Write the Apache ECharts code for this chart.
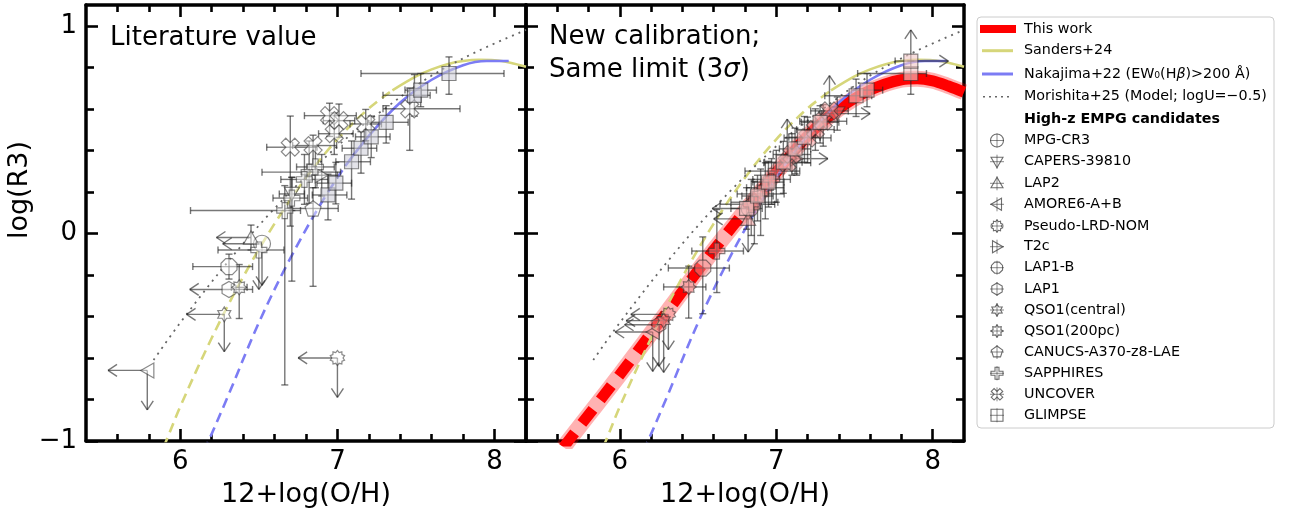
<!DOCTYPE html>
<html><head><meta charset="utf-8">
<script src="https://cdn.jsdelivr.net/npm/echarts@6/dist/echarts.min.js"></script>
<style>html,body{margin:0;padding:0;background:#fff}#c{width:1293px;height:512px}</style>
</head><body><div id="c"></div><script>
// ---------- axis ticks ----------
const xMajor = [6, 7, 8];
const xMinor = [5.6, 5.8, 6.2, 6.4, 6.6, 6.8, 7.2, 7.4, 7.6, 7.8];
const yMajor = [-1, 0, 1];
const yMinor = [-0.8, -0.6, -0.4, -0.2, 0.2, 0.4, 0.6, 0.8];

// ---------- calibration curves [12+log(O/H), log(R3)] ----------
const sandersDashed = [[5.85,-1.1],[5.91,-1.0],[6.0,-0.834],[6.2,-0.504],[6.4,-0.21],[6.6,0.047],[6.8,0.268],[7.0,0.453],[7.2,0.602],[7.35,0.689]];
const sandersSolid = [[7.35,0.689],[7.5,0.756],[7.6,0.79],[7.7,0.815],[7.8,0.83],[7.9,0.836],[8.0,0.834],[8.1,0.822],[8.2,0.802]];
const nakajimaDashed = [[6.15,-1.05],[6.18,-1.0],[6.3,-0.79],[6.5,-0.43],[6.7,-0.12],[6.9,0.15],[7.05,0.325]];
const nakajimaSolid = [[7.05,0.325],[7.2,0.47],[7.4,0.63],[7.6,0.74],[7.8,0.81],[7.95,0.83],[8.09,0.83]];
const morishita = [[5.83,-0.61],[6.0,-0.43],[6.3,-0.14],[6.6,0.12],[7.0,0.42],[7.3,0.6],[7.6,0.76],[7.9,0.88],[8.2,0.98]];
const thisWorkDashed = [[5.64,-1.03],[5.67,-1.0],[6.0,-0.68],[6.3,-0.38],[6.6,-0.08],[6.9,0.2]];
const thisWorkSolid = [[6.9,0.2],[7.04,0.33],[7.2,0.47],[7.4,0.6],[7.6,0.69],[7.8,0.74],[7.9,0.745],[8.0,0.735],[8.1,0.71],[8.2,0.68]];

// ---------- objects: [x, y, xerrLo, xerrHi, yerrLo, yerrHi, limits]
// limits: 1 = x upper limit, 2 = x lower limit, 4 = y upper limit, 8 = y lower limit
const lit_MPGCR3 = [[6.52,-0.05,0.25,0,0.20,0,5]];
const cal_MPGCR3 = [[6.83,0.12,0.24,0,0.05,0.05,1]];
const lit_CAPERS = [[6.71,0.19,0.08,0.08,0.08,0.08,0]];
const cal_CAPERS = [[7.39,0.577,0.1,0.21,0.08,0.08,2]];
const lit_LAP2 = [[6.45,-0.02,0.22,0,0.06,0.06,1]];
const cal_LAP2 = [[6.82,0.07,0.22,0,0.16,0,5]];
const lit_AMORE6 = [[5.79,-0.66,0.25,0,0.19,0,5]];
const cal_AMORE6 = [[6.21,-0.475,0.24,0,0.19,0,5]];
const lit_PLRD = [[7.0,-0.60,0.25,0,0.19,0,5]];
const cal_PLRD = [[6.31,-0.39,0.24,0,0.17,0,5]];
const lit_T2c = [[6.90,0.28,0.1,0.1,0.1,0.1,0]];
const cal_T2c = [[7.13,0.36,0.1,0.2,0.08,0.08,2]];
const lit_LAP1B = [[6.31,-0.16,0.23,0.15,0.06,0.06,0]];
const cal_LAP1B = [[6.53,-0.167,0.22,0.17,0.22,0.15,0]];
const lit_LAP1 = [[6.31,-0.27,0.25,0.15,0,0,1]];
const cal_LAP1 = [[6.25,-0.44,0.22,0,0.2,0,5]];
const lit_QSO1c = [[6.28,-0.39,0.24,0,0.18,0,5]];
const cal_QSO1c = [[6.28,-0.42,0.24,0,0.25,0,5]];
const lit_QSO1e = [[6.375,-0.26,0.05,0.05,0.15,0.11,0]];
const cal_QSO1e = [[6.44,-0.258,0.16,0.11,0.15,0.10,0]];
const lit_CANUCS = [[6.845,0.12,0.18,0.16,0.375,0.10,0]];
const cal_CANUCS = [[6.86,0.15,0.15,0.15,0.2,0.1,0]];
const lit_SAPPHIRES = [[6.50,-0.08,0.26,0.16,0.19,0,4],[6.665,0.11,0.6,0.1,0.84,0.12,0],[6.71,0.17,0.12,0.1,0.40,0.1,0],[6.82,0.295,0.3,0.2,0.15,0.15,0],[6.79,0.26,0.15,0.15,0.12,0.12,0],[6.86,0.32,0.12,0.12,0.1,0.1,0]];
const cal_SAPPHIRES = [[6.62,-0.085,0.16,0.17,0.2,0.2,0],[6.84,0.14,0.2,0.15,0.15,0.12,0],[6.90,0.19,0.15,0.15,0.2,0.12,0],[6.93,0.22,0.12,0.12,0.15,0.12,0],[6.97,0.26,0.12,0.12,0.12,0.1,0],[7.0,0.30,0.2,0.15,0.15,0.1,0]];
const lit_UNCOVER = [[6.70,0.415,0.15,0.17,0.38,0.15,0],[6.845,0.423,0.13,0.15,0.1,0.05,0],[6.95,0.567,0.16,0.17,0.1,0.06,0],[7.01,0.543,0.1,0.1,0.08,0.08,0],[6.98,0.48,0.1,0.12,0.1,0.1,0],[7.18,0.527,0.1,0.1,0.08,0.07,0],[7.46,0.60,0.17,0.32,0.2,0.1,0]];
const cal_UNCOVER = [[7.07,0.34,0.15,0.15,0,0.21,8],[7.10,0.38,0.12,0.12,0.1,0.1,0],[7.2,0.46,0.15,0.15,0.12,0.1,0],[7.25,0.50,0.12,0.12,0.1,0.1,0],[7.30,0.54,0.15,0.15,0.12,0.08,0],[7.34,0.59,0.12,0.12,0,0.17,8]];
const lit_GLIMPSE = [[6.94,0.185,0.1,0.12,0.12,0.1,0],[6.99,0.242,0.12,0.1,0.1,0.1,0],[7.09,0.345,0.1,0.12,0.18,0.1,0],[7.15,0.41,0.12,0.1,0.12,0.08,0],[7.215,0.465,0.1,0.12,0.1,0.1,0],[7.31,0.535,0.12,0.14,0.1,0.08,0],[7.49,0.665,0.2,0.1,0.1,0.1,0],[7.53,0.69,0.1,0.1,0.08,0.08,0],[7.71,0.77,0.56,0.35,0.1,0.08,0]];
const cal_GLIMPSE = [[6.81,0.12,0.1,0.1,0.1,0.1,0],[6.88,0.18,0.1,0.1,0.12,0.1,0],[6.95,0.247,0.1,0.1,0.12,0.1,0],[7.045,0.343,0.12,0.12,0.15,0.1,0],[7.12,0.407,0.1,0.1,0.12,0.1,0],[7.18,0.463,0.1,0.1,0.12,0.1,0],[7.28,0.535,0.12,0.12,0.1,0.08,0],[7.51,0.663,0.2,0.1,0.1,0.08,0],[7.58,0.69,0.1,0.1,0.08,0.08,0],[7.86,0.77,0.34,0.1,0.1,0.06,0],[7.86,0.83,0.1,0.24,0,0.15,10]];

// ---------- styling ----------
const FONT = 'DejaVu Sans';
const X_MIN = 5.4, X_MAX = 8.2, Y_MIN = -1, Y_MAX = 1.1;
const C_SAND = '#d6d67a', C_NAKA = '#7c7cf4', C_MORI = '#666666';
const ERR = 'rgba(35,35,35,0.62)';

function unitPath(pts){ return 'path://M' + pts.map(p => ((p[0]+1)*50).toFixed(2)+','+((p[1]+1)*50).toFixed(2)).join('L') + 'Z'; }
function regPts(n, rot){ const a=[]; for(let i=0;i<n;i++){ const t=rot+2*Math.PI*i/n; a.push([Math.cos(t), Math.sin(t)]);} return a; }
function starPts(n, inner){ const a=[]; for(let i=0;i<2*n;i++){ const t=-Math.PI/2+Math.PI*i/n; const r=i%2?inner:1; a.push([r*Math.cos(t), r*Math.sin(t)]);} return a; }
const SHAPES = {
  tri_down: [[-1,-0.75],[1,-0.75],[0,1]],
  tri_up: [[0,-1],[1,0.75],[-1,0.75]],
  tri_left: [[-1,0],[0.75,-1],[0.75,1]],
  tri_right: [[1,0],[-0.75,-1],[-0.75,1]],
  oct: regPts(8, Math.PI/8),
  hex: regPts(6, -Math.PI/2),
  pent: regPts(5, -Math.PI/2),
  star6: starPts(6, 0.6),
  star8: starPts(8, 0.7),
  star10: starPts(10, 0.75),
  plus: [[-0.33,-1],[0.33,-1],[0.33,-0.33],[1,-0.33],[1,0.33],[0.33,0.33],[0.33,1],[-0.33,1],[-0.33,0.33],[-1,0.33],[-1,-0.33],[-0.33,-0.33]],
  square: [[-1,-1],[1,-1],[1,1],[-1,1]]
};
SHAPES.xcross = SHAPES.plus.map(p => [(p[0]-p[1])*0.72, (p[0]+p[1])*0.72]);

const GROUPS = [
  ['MPG-CR3', 'circle', lit_MPGCR3, cal_MPGCR3, 17],
  ['CAPERS-39810', 'tri_down', lit_CAPERS, cal_CAPERS, 15],
  ['LAP2', 'tri_up', lit_LAP2, cal_LAP2, 15],
  ['AMORE6-A+B', 'tri_left', lit_AMORE6, cal_AMORE6, 15],
  ['Pseudo-LRD-NOM', 'star10', lit_PLRD, cal_PLRD, 15],
  ['T2c', 'tri_right', lit_T2c, cal_T2c, 15],
  ['LAP1-B', 'oct', lit_LAP1B, cal_LAP1B, 16],
  ['LAP1', 'hex', lit_LAP1, cal_LAP1, 16],
  ['QSO1(central)', 'star6', lit_QSO1c, cal_QSO1c, 15],
  ['QSO1(200pc)', 'star8', lit_QSO1e, cal_QSO1e, 15],
  ['CANUCS-A370-z8-LAE', 'pent', lit_CANUCS, cal_CANUCS, 16],
  ['SAPPHIRES', 'plus', lit_SAPPHIRES, cal_SAPPHIRES, 16],
  ['UNCOVER', 'xcross', lit_UNCOVER, cal_UNCOVER, 18],
  ['GLIMPSE', 'square', lit_GLIMPSE, cal_GLIMPSE, 14]
];
const fmt = v => (v < 0 ? '\u2212' + Math.abs(v) : '' + v);

function axisCommon(g, pos, isX, vals, len, labels, line){
  return {
    type:'value', gridIndex:g, position:pos,
    min: isX ? X_MIN : Y_MIN, max: isX ? X_MAX : Y_MAX,
    axisLine:{show:line, onZero:false, lineStyle:{color:'#000', width:3.5}},
    axisTick:{show:true, inside:true, length:len, customValues:vals, lineStyle:{color:'#000', width:2.6}},
    axisLabel:{show:labels, customValues:vals, margin:isX?8:9, fontSize:26, color:'#000', fontFamily:FONT, formatter:fmt},
    splitLine:{show:false}, minorTick:{show:false}, axisPointer:{show:false}, silent:true
  };
}
const xAxes = [], yAxes = [];
for (let g = 0; g < 2; g++) {
  const xb = axisCommon(g,'bottom',true,xMajor,12,true,true);
  xb.name = '12+log(O/H)'; xb.nameLocation = 'middle'; xb.nameGap = 40;
  xb.nameTextStyle = {fontSize:27, fontFamily:FONT, color:'#000'};
  xAxes.push(xb, axisCommon(g,'bottom',true,xMinor,7,false,false),
             axisCommon(g,'top',true,xMajor,12,false,true), axisCommon(g,'top',true,xMinor,7,false,false));
  yAxes.push(axisCommon(g,'left',false,yMajor,12,g===0,true), axisCommon(g,'left',false,yMinor,8,false,false),
             axisCommon(g,'right',false,yMajor,12,false,true), axisCommon(g,'right',false,yMinor,8,false,false));
}

function lineS(g, data, color, width, type, z){
  return {type:'line', xAxisIndex:g*4, yAxisIndex:g*4, data, smooth:0.35, symbol:'none', clip:true, silent:true, z:z||2,
    lineStyle:{color, width, type, cap:'butt'}};
}
function errS(g, data){
  return {type:'custom', xAxisIndex:g*4, yAxisIndex:g*4, clip:true, z:3, silent:true, data,
    encode:{x:0, y:1},
    renderItem(params, api){
      const x=api.value(0), y=api.value(1), exm=api.value(2), exp=api.value(3), eym=api.value(4), eyp=api.value(5), f=api.value(6);
      const c = api.coord([x,y]); const ch = [];
      const st = {stroke:ERR, lineWidth:1.4, fill:null};
      const seg = (a,b) => ch.push({type:'line', shape:{x1:a[0],y1:a[1],x2:b[0],y2:b[1]}, style:st});
      const A = 9, W = 6, CAP = 3.5;
      if (exm > 0) { const p = api.coord([x-exm,y]); seg(c,p);
        if (f & 1) { seg(p,[p[0]+A,p[1]-W]); seg(p,[p[0]+A,p[1]+W]); } else seg([p[0],p[1]-CAP],[p[0],p[1]+CAP]); }
      if (exp > 0) { const p = api.coord([x+exp,y]); seg(c,p);
        if (f & 2) { seg(p,[p[0]-A,p[1]-W]); seg(p,[p[0]-A,p[1]+W]); } else seg([p[0],p[1]-CAP],[p[0],p[1]+CAP]); }
      if (eym > 0) { const p = api.coord([x,y-eym]); seg(c,p);
        if (f & 4) { seg(p,[p[0]-W,p[1]-A]); seg(p,[p[0]+W,p[1]-A]); } else seg([p[0]-CAP,p[1]],[p[0]+CAP,p[1]]); }
      if (eyp > 0) { const p = api.coord([x,y+eyp]); seg(c,p);
        if (f & 8) { seg(p,[p[0]-W,p[1]+A]); seg(p,[p[0]+W,p[1]+A]); } else seg([p[0]-CAP,p[1]],[p[0]+CAP,p[1]]); }
      return {type:'group', children:ch};
    }
  };
}
function symOf(kind){ return kind === 'circle' ? 'circle' : unitPath(SHAPES[kind]); }

const series = [];
// left panel curves
series.push(lineS(0, sandersDashed, C_SAND, 2.6, [10,6]));
series.push(lineS(0, sandersSolid, C_SAND, 2.6, 'solid'));
series.push(lineS(0, nakajimaDashed, C_NAKA, 2.6, [10,6]));
series.push(lineS(0, nakajimaSolid, C_NAKA, 2.6, 'solid'));
series.push(lineS(0, morishita, C_MORI, 1.8, [2,5]));
// right panel curves
series.push(lineS(1, thisWorkDashed.concat(thisWorkSolid.slice(1)), 'rgba(255,0,0,0.3)', 16, 'solid', 1));
series.push(lineS(1, thisWorkDashed, '#ff0000', 11, [18,12], 1));
series.push(lineS(1, thisWorkSolid, '#ff0000', 11, 'solid', 1));
series.push(lineS(1, sandersDashed, C_SAND, 2.6, [10,6]));
series.push(lineS(1, sandersSolid, C_SAND, 2.6, 'solid'));
series.push(lineS(1, nakajimaDashed, C_NAKA, 2.6, [10,6]));
series.push(lineS(1, nakajimaSolid, C_NAKA, 2.6, 'solid'));
series.push(lineS(1, morishita, C_MORI, 1.8, [2,5]));

for (let g = 0; g < 2; g++) {
  const all = [];
  GROUPS.forEach(G => { (g===0?G[2]:G[3]).forEach(d => all.push(d)); });
  series.push(errS(g, all));
  GROUPS.forEach(G => {
    const arr = g===0 ? G[2] : G[3];
    let fill;
    if (g === 0) fill = G[1]==='square' ? 'rgba(205,205,215,0.7)' : 'rgba(255,255,255,0.55)';
    else fill = G[1]==='square' ? 'rgba(242,200,200,0.78)' : 'rgba(245,150,150,0.6)';
    series.push({type:'scatter', name:G[0], xAxisIndex:g*4, yAxisIndex:g*4, z:4, silent:true,
      symbol:symOf(G[1]), symbolKeepAspect:true, symbolSize:G[4],
      data: arr.map(d => [d[0], d[1]]),
      itemStyle:{color:fill, borderColor:'rgba(45,45,45,0.7)', borderWidth:1.2}});
  });
}

// ---------- legend (graphic) ----------
const legendY = [29, 50.7, 74, 96.7, 119, 140.5, 161.7, 183.3, 204.3, 226, 246.7, 267.7, 289, 310, 331, 352, 373.3, 394.3, 415.3];
const gr = [];
gr.push({type:'rect', shape:{x:977, y:17, width:297, height:411, r:4}, style:{fill:'#fff', stroke:'#cccccc', lineWidth:1}, z:10});
const tx = (t, y, extra) => Object.assign({type:'text', x:1024, y:y, z:11,
  style:Object.assign({text:t, fontSize:14.3, fontFamily:FONT, fill:'#000', verticalAlign:'middle', textVerticalAlign:'middle'}, extra||{})});
gr.push({type:'rect', shape:{x:980, y:legendY[0]-4, width:36, height:8}, style:{fill:'#ff0000'}, z:11});
gr.push(tx('This work', legendY[0]));
gr.push({type:'line', shape:{x1:982, y1:legendY[1], x2:1013, y2:legendY[1]}, style:{stroke:C_SAND, lineWidth:3}, z:11});
gr.push(tx('Sanders+24', legendY[1]));
gr.push({type:'line', shape:{x1:982, y1:legendY[2], x2:1013, y2:legendY[2]}, style:{stroke:C_NAKA, lineWidth:3}, z:11});
gr.push({type:'text', x:1024, y:legendY[2], z:11, style:{text:'{n|Nakajima+22 (EW₀(H}{i|β}{n|)>200 Å)}', verticalAlign:'middle', textVerticalAlign:'middle',
  rich:{n:{fontSize:14.3, fontFamily:FONT, fill:'#000'}, i:{fontSize:14.3, fontFamily:FONT, fontStyle:'italic', fill:'#000'}}}});
gr.push({type:'line', shape:{x1:983, y1:legendY[3], x2:1010, y2:legendY[3]}, style:{stroke:C_MORI, lineWidth:1.6, lineDash:[2,4]}, z:11});
gr.push(tx('Morishita+25 (Model; logU=\u22120.5)', legendY[3]));
gr.push(tx('High-z EMPG candidates', legendY[4], {fontWeight:'bold'}));
GROUPS.forEach((G, i) => {
  const y = legendY[5+i], cx = 997, r = 6;
  const st = {fill:'rgba(255,255,255,0.6)', stroke:'rgba(60,60,60,0.75)', lineWidth:1.1};
  if (G[1] === 'circle') gr.push({type:'circle', shape:{cx, cy:y, r:r+0.5}, style:st, z:11});
  else gr.push({type:'polygon', shape:{points:SHAPES[G[1]].map(p => [cx+p[0]*r, y+p[1]*r])}, style:st, z:11});
  gr.push({type:'line', shape:{x1:cx-7, y1:y, x2:cx+7, y2:y}, style:{stroke:'rgba(60,60,60,0.6)', lineWidth:1}, z:12});
  gr.push({type:'line', shape:{x1:cx, y1:y-7, x2:cx, y2:y+7}, style:{stroke:'rgba(60,60,60,0.6)', lineWidth:1}, z:12});
  gr.push(tx(G[0], y));
});
// panel annotations and y title
gr.push({type:'text', x:110, y:38, z:11, style:{text:'Literature value', fontSize:26, fontFamily:FONT, fill:'#000', verticalAlign:'middle', textVerticalAlign:'middle'}});
gr.push({type:'text', x:549, y:37, z:11, style:{text:'New calibration;', fontSize:26, fontFamily:FONT, fill:'#000', verticalAlign:'middle', textVerticalAlign:'middle'}});
gr.push({type:'text', x:549, y:70, z:11, style:{text:'{n|Same limit (3}{i|σ}{n|)}', verticalAlign:'middle', textVerticalAlign:'middle',
  rich:{n:{fontSize:26, fontFamily:FONT, fill:'#000'}, i:{fontSize:26, fontFamily:FONT, fontStyle:'italic', fill:'#000'}}}});
gr.push({type:'text', x:20, y:190, rotation:Math.PI/2, z:11, style:{text:'log(R3)', fontSize:27, fontFamily:FONT, fill:'#000',
  align:'center', textAlign:'center', verticalAlign:'middle', textVerticalAlign:'middle'}});

const chart = echarts.init(document.getElementById('c'), null, {renderer:'canvas'});
chart.setOption({
  animation:false, backgroundColor:'#fff',
  grid:[{left:86, top:5, width:440, height:436, outerBoundsMode:'none', containLabel:false},
        {left:526, top:5, width:438, height:436, outerBoundsMode:'none', containLabel:false}],
  xAxis:xAxes, yAxis:yAxes, series, graphic:gr
});
</script></body></html>
